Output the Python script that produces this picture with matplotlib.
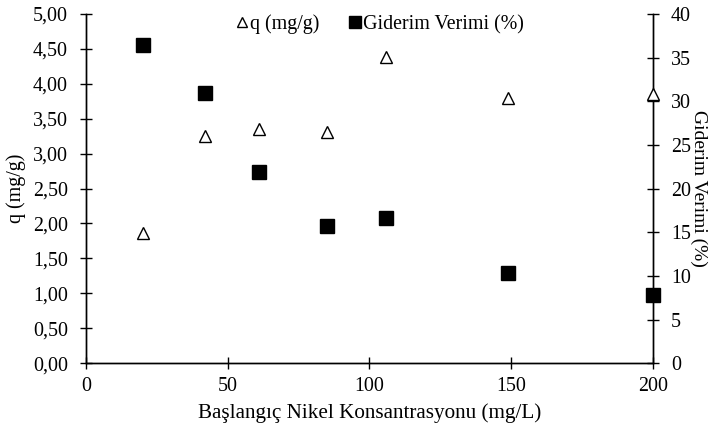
import numpy as np
import matplotlib.pyplot as plt
from matplotlib.ticker import FuncFormatter

plt.rcParams['font.family'] = ['Liberation Serif', 'DejaVu Serif']

# data
konsantrasyon = [20, 42, 61, 85, 106, 149, 200]
q = [1.87, 3.25, 3.35, 3.31, 4.39, 3.80, 3.86]
verim = [36.4, 30.9, 21.9, 15.7, 16.6, 10.3, 7.8]

fs = 14.4

fig = plt.figure(figsize=(7.16, 4.37), dpi=100)
ax = fig.add_axes([0.120, 0.169, 0.792, 0.799])
ax2 = ax.twinx()

l1, = ax.plot(konsantrasyon, q, linestyle='none', marker='^', markersize=9,
              markerfacecolor='white', markeredgecolor='black', markeredgewidth=1.0,
              label='q (mg/g)', clip_on=False, zorder=5)
l2, = ax2.plot(konsantrasyon, verim, linestyle='none', marker='s', markersize=9.5,
               color='black', label='Giderim Verimi (%)', clip_on=False, zorder=5)

ax.set_xlim(0, 200)
ax.set_ylim(0, 5)
ax2.set_ylim(0, 40)
ax.set_xticks([0, 50, 100, 150, 200])
ax.set_yticks(np.arange(0, 5.01, 0.5))
ax2.set_yticks(range(0, 41, 5))
ax.yaxis.set_major_formatter(FuncFormatter(lambda v, p: f'{v:.2f}'.replace('.', ',')))

for a in (ax, ax2):
    a.spines['top'].set_visible(False)
    a.tick_params(direction='inout', length=8, width=1, labelsize=fs, colors='black')
    for s in a.spines.values():
        s.set_linewidth(1.0)
ax.tick_params(axis='x', pad=6)
ax.tick_params(axis='y', pad=9)
ax2.tick_params(axis='y', pad=9)

ax.set_xlabel('Başlangıç Nikel Konsantrasyonu (mg/L)', fontsize=15.2, labelpad=5)
ax.set_ylabel('q (mg/g)', fontsize=fs, labelpad=5)
ax2.set_ylabel('Giderim Verimi (%)', fontsize=14, rotation=270, labelpad=12)

ax.set_zorder(ax2.get_zorder() + 1)
ax.patch.set_visible(False)

leg = ax.legend([l1, l2], ['q (mg/g)', 'Giderim Verimi (%)'], loc='upper center',
                bbox_to_anchor=(0.519, 1.05), ncol=2, frameon=False, fontsize=fs,
                handletextpad=0.1, columnspacing=1.5, handlelength=0.6)
leg.legend_handles[0].set_markersize(7)
leg.legend_handles[1].set_markersize(9)

plt.savefig('out.png')
